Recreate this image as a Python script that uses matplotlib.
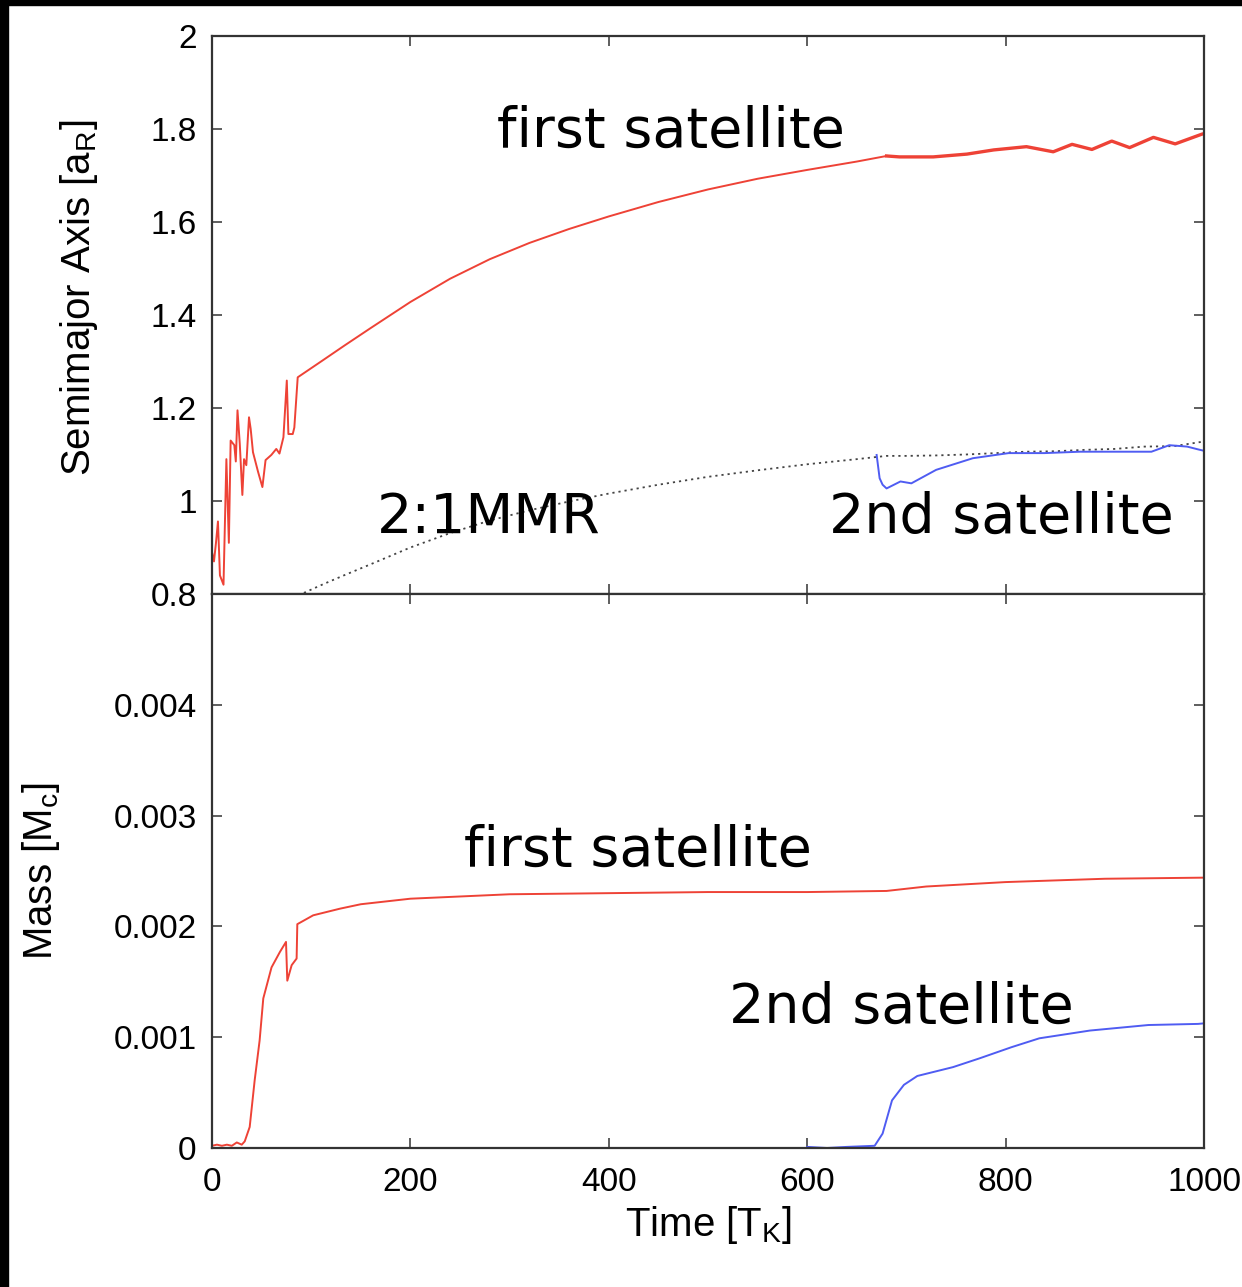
#!/usr/bin/env python3
"""Semimajor axis and mass growth of the two satellites formed in the disk."""

import matplotlib.pyplot as plt
from matplotlib.patches import Rectangle

RED = "#ee4236"
BLUE = "#4f5cf2"
DOT = "#444444"
FRAME = "#333333"

plt.rcParams.update(
    {
        "font.family": ["Liberation Sans", "DejaVu Sans"],
        "mathtext.fontset": "custom",
        "mathtext.rm": "Liberation Sans",
        "mathtext.it": "Liberation Sans",
    }
)

# first satellite, semimajor axis [a_R]
t_a1 = [0, 2, 4, 6, 8, 11.6, 14.5, 17, 18.8, 22.5, 24, 25.7, 28, 30.6, 32.3, 34.6,
        37.3, 39, 41.3, 46.4, 50.8, 54, 59.8, 64.8, 68, 72, 75.4, 77, 81.4, 83, 86.4,
        112, 134, 160, 200, 240, 280, 320, 360, 400, 450, 500, 550, 600, 650, 680]
a1 = [0.89, 0.87, 0.91, 0.956, 0.84, 0.82, 1.09, 0.91, 1.13, 1.12, 1.085, 1.195, 1.123,
      1.013, 1.09, 1.077, 1.18, 1.155, 1.105, 1.063, 1.03, 1.088, 1.099, 1.112, 1.102,
      1.137, 1.259, 1.144, 1.144, 1.158, 1.266, 1.303, 1.335, 1.372, 1.428, 1.478,
      1.52, 1.555, 1.585, 1.612, 1.643, 1.67, 1.693, 1.712, 1.73, 1.742]
# after the second satellite appears the orbit starts to wobble
t_a1_late = [680, 693, 727, 761, 788, 821, 848, 867, 887, 907, 925, 949, 971, 998, 1000]
a1_late = [1.742, 1.740, 1.740, 1.746, 1.755, 1.762, 1.751, 1.767, 1.756, 1.774, 1.760,
           1.782, 1.768, 1.789, 1.790]

# location of the 2:1 mean motion resonance
t_mmr = [87, 112, 134, 160, 200, 240, 280, 320, 360, 400, 450, 500, 550, 600, 650, 680,
         700, 730, 760, 790, 820, 850, 880, 910, 940, 970, 1000]
a_mmr = [0.797, 0.821, 0.841, 0.864, 0.90, 0.931, 0.958, 0.98, 0.999, 1.016, 1.035,
         1.052, 1.066, 1.079, 1.09, 1.097, 1.097, 1.098, 1.100, 1.103, 1.106, 1.107,
         1.110, 1.112, 1.117, 1.118, 1.128]

# second satellite, semimajor axis
t_a2 = [670, 673, 676, 680, 694, 705, 730, 767, 803, 839, 875, 911, 947, 965, 983, 994, 1000]
a2 = [1.099, 1.049, 1.035, 1.027, 1.042, 1.038, 1.067, 1.092, 1.103, 1.103, 1.106,
      1.106, 1.106, 1.12, 1.117, 1.111, 1.108]

# masses [M_c]
t_m1 = [0, 5, 10, 15, 20, 25, 30, 33, 38, 43, 48, 51.7, 60, 68.5, 74.6, 75.9, 80.3,
        85.3, 86, 102, 129, 150, 200, 300, 400, 500, 600, 680, 720, 800, 900, 1000]
m1 = [0.00002, 0.00003, 0.00002, 0.00003, 0.00002, 0.00005, 0.00003, 0.00006, 0.00019,
      0.00061, 0.00097, 0.00135, 0.00163, 0.00177, 0.00186, 0.00151, 0.00165, 0.00171,
      0.00202, 0.00210, 0.00216, 0.00220, 0.00225, 0.00229, 0.00230, 0.00231, 0.00231,
      0.00232, 0.00236, 0.00240, 0.00243, 0.00244]
t_m2 = [600, 620, 640, 668, 676, 685.5, 697.5, 711, 747, 774, 806, 834, 885, 944, 994, 1000]
m2 = [0.00001, 0.0, 0.00001, 0.00002, 0.00013, 0.00043, 0.00057, 0.00065, 0.00073,
      0.00081, 0.00091, 0.00099, 0.00106, 0.00111, 0.00112, 0.001125]

x_ticks = [0, 200, 400, 600, 800, 1000]
a_ticks = [0.8, 1.0, 1.2, 1.4, 1.6, 1.8, 2.0]
a_ticklabels = ["0.8", "1", "1.2", "1.4", "1.6", "1.8", "2"]
m_ticks = [0, 0.001, 0.002, 0.003, 0.004, 0.005]
m_ticklabels = ["0", "0.001", "0.002", "0.003", "0.004", ""]


def style(ax):
    for sp in ax.spines.values():
        sp.set_linewidth(1.6)
        sp.set_color(FRAME)
    ax.tick_params(direction="in", length=7, width=1.1, color=FRAME,
                   top=True, right=True, labelsize=24, pad=11)
    ax.tick_params(axis="x", pad=14)
    ax.set_xlim(0, 1000)
    ax.set_xticks(x_ticks)


fig = plt.figure(figsize=(12.42, 12.87), dpi=100)
left, width = 212 / 1242, 992 / 1242
y_mid = 1 - 594 / 1287
ax1 = fig.add_axes([left, y_mid, width, (594 - 36) / 1287])
ax2 = fig.add_axes([left, 1 - 1148 / 1287, width, (1148 - 594) / 1287])

ax1.plot(t_mmr, a_mmr, color=DOT, lw=1.3, linestyle=(0, (1.2, 2.2)))
ax1.plot(t_a1, a1, color=RED, lw=1.4)
ax1.plot(t_a1_late, a1_late, color=RED, lw=2.4)
ax1.plot(t_a2, a2, color=BLUE, lw=1.4)
ax1.set_ylim(0.8, 2.0)
ax1.set_yticks(a_ticks)
ax1.set_yticklabels(a_ticklabels)
ax1.set_xticklabels([])
ax1.set_ylabel("Semimajor Axis [a$_\\mathregular{R}$]", fontsize=29)
ax1.yaxis.set_label_coords(-0.113, 0.53)
style(ax1)

ax2.plot(t_m1, m1, color=RED, lw=1.4)
ax2.plot(t_m2, m2, color=BLUE, lw=1.4)
ax2.set_ylim(0, 0.005)
ax2.set_yticks(m_ticks)
ax2.set_yticklabels(m_ticklabels)
ax2.set_xlabel("Time [T$_\\mathregular{K}$]", fontsize=29, labelpad=4)
ax2.set_ylabel("Mass [M$_\\mathregular{c}$]", fontsize=29)
ax2.yaxis.set_label_coords(-0.151, 0.5)
style(ax2)
ax2.set_xticklabels([str(x) for x in x_ticks])

note = dict(fontsize=40, family="DejaVu Sans", ha="center", va="center", color="black")
ax1.text(463, 1.795, "first satellite", **note)
ax1.text(279, 0.963, "2:1MMR", **note)
ax1.text(796, 0.963, "2nd satellite", **note)
ax2.text(429, 0.00268, "first satellite", **note)
ax2.text(695, 0.00127, "2nd satellite", **note)

fig.patches.append(Rectangle((0, 1 - 5 / 1287), 1, 5 / 1287, transform=fig.transFigure,
                             color="black", zorder=10))
fig.patches.append(Rectangle((0, 0), 8 / 1242, 1, transform=fig.transFigure,
                             color="black", zorder=10))

fig.savefig("out.png", dpi=100)
